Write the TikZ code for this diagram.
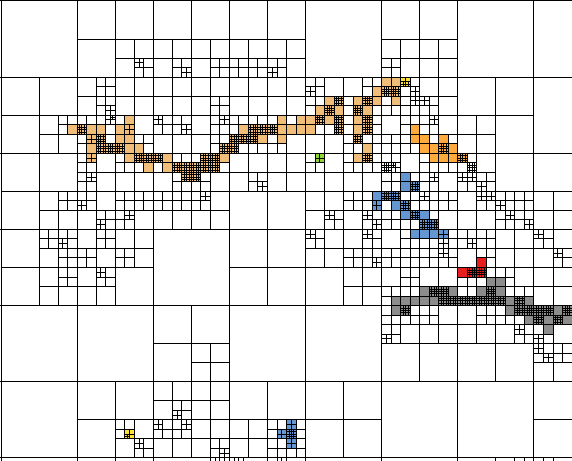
\documentclass[tikz,border=0pt]{standalone}
\definecolor{qor}{RGB}{240,190,120}
\definecolor{qsat}{RGB}{255,170,60}
\definecolor{qye}{RGB}{255,225,60}
\definecolor{qgr}{RGB}{140,215,50}
\definecolor{qbl}{RGB}{100,150,210}
\definecolor{qre}{RGB}{230,30,30}
\definecolor{qgy}{RGB}{140,140,140}
\tikzset{ql/.style={line width=1pt,black}}
\newcommand\QCr[3]{%
  \pgfmathsetmacro\qcx{floor((#1)/(#3)+0.0001)*(#3)}%
  \pgfmathsetmacro\qcy{floor((#2)/(#3)+0.0001)*(#3)}%
  \pgfmathsetmacro\qcm{\qcx+(#3)/2}%
  \pgfmathsetmacro\qcn{\qcy+(#3)/2}%
  \ifdim#3pt<0.2pt \def\qlw{0.7pt}\else\def\qlw{1pt}\fi
  \draw[ql,line width=\qlw] (\qcm,\qcy) -- ++(0,#3) (\qcx,\qcn) -- ++(#3,0);}
\newcommand\QSub[3]{\foreach \qss in {2,1,0.5,0.25,0.125,0.0625}{\ifdim\qss pt<#3pt\relax\else\QCr{#1}{#2}{\qss}\fi}}
\newcommand\QD[2]{\QSub{#1}{#2}{0.125}\QSub{#1+0.125}{#2}{0.125}\QSub{#1}{#2+0.125}{0.125}\QSub{#1+0.125}{#2+0.125}{0.125}}
\newcommand\QCell[3]{\QSub{#1}{#2}{0.5}\ifnum#3=1 \QSub{#1}{#2}{0.25}\fi\ifnum#3=2 \QD{#1}{#2}\fi}
\def\ListO{3.25/3/0,1.75/3.25/0,2/3.25/2,2.25/3.25/0,2.5/3.25/0,3/3.25/0,3.25/3.25/1,
2.25/3.5/1,2.5/3.5/2,3/3.5/0,3.25/3.5/0,
2.25/3.75/0,2.5/3.75/2,2.75/3.75/2,3/3.75/2,3.25/3.75/0,3.5/3.75/0,
2.25/4/1,3.25/4/0,3.5/4/2,3.75/4/2,4/4/2,4.25/4/0,
3.75/4.25/0,4.25/4.25/0,4.5/4.25/2,4.75/4.25/2,
4.75/4.5/2,5/4.5/2,
5.25/4/2,5.5/4/2,5.75/4/0,
5/4.25/2,5.25/4.25/2,5.5/4.25/2,
5.75/3.75/2,6/3.75/2,
6/3.5/2,6.25/3.5/2,6.5/3.5/2,6.75/3.5/0,7.25/3.5/0,
6.25/3.25/0,6.5/3.25/2,6.75/3.25/2,7/3.25/2,7.25/3.25/0,7.5/3.25/0,7.75/3.25/0,8/3.25/0,
7.25/3/0,7.75/3/0,8/3/0,8.25/3/2,8.5/3/0,8.75/3/2,9.25/3/0,9.5/3/2,
8.25/2.75/0,8.5/2.75/2,8.75/2.75/0,9.25/2.75/2,9.5/2.75/0,
8.5/2.5/0,8.75/2.5/2,9.25/2.5/0,9.5/2.5/2,9.75/2.5/0,
9.75/2.25/0,10/2.25/2,10.25/2.25/2,
10/2/0,10.25/2/0,10.25/2.5/0,
8.75/3.25/2,9.25/3.25/0,9.5/3.25/2,
9.25/3.5/2,9.5/3.75/0,9.25/4/0,9.5/4/2}
\def\ListSat{10.75/3.25/0,10.75/3.5/0,11/3.5/0,11.5/3.5/0,11/3.75/0,11.25/3.75/0,11.5/3.75/2,11.75/3.75/0,11.25/4/0,11.5/4/0,11.75/4/0,12/4/2}
\def\ListY{10.5/2/1,3.25/11.25/1}
\def\ListG{8.25/4/1}
\def\ListB{10.5/4.5/0,10.5/4.75/0,10.75/4.75/2,
9.75/5/0,10/5/2,10.25/5/2,
9.75/5.25/1,10.25/5.25/0,10.5/5.25/2,
10.5/5.5/0,10.75/5.5/2,11/5.5/0,
11/5.75/2,11.25/5.75/2,
10.75/6/0,11/6/0,11.25/6/0,11.5/6/1,
7.25/11.25/1,7.5/11/1,7.5/11.25/2,7.5/11.5/1}
\def\ListR{12.5/6.75/0,12/7/0,12.25/7/2,12.5/7/2}
\def\ListGy{12.75/7.25/0,13/7.25/0,
11/7.5/0,11.25/7.5/2,11.5/7.5/2,11.75/7.5/0,12.5/7.5/0,12.75/7.5/2,13/7.5/0,
10.25/7.75/0,10.5/7.75/0,10.75/7.75/0,11/7.75/0,11.25/7.75/0,11.5/7.75/2,11.75/7.75/2,12/7.75/2,12.25/7.75/2,12.5/7.75/2,12.75/7.75/2,13/7.75/2,13.25/7.75/0,13.5/7.75/2,13.75/7.75/0,
10.25/8/0,10.5/8/2,13.25/8/0,13.5/8/2,13.75/8/2,14/8/2,14.25/8/2,14.5/8/0,14.75/8/2,
13.75/8.25/0,14/8.25/2,14.25/8.25/0,14.5/8.25/2,14.75/8.25/0,
14.25/8.5/0}
\def\ListS{3.5/1.5/0.25,4.75/1.75/0.25,5.5/1.5/0.5,6/1.5/0.5,6.5/1.5/0.5,7/1.75/0.25,10/1.5/0.5,11/1/1,
1.5/3/0.5,2.5/2/0.5,2.75/2.75/0.25,2.875/3/0.125,3/2/1,4/2/1,4/3/0.25,4.75/3.25/0.25,5/2/1,5.5/2.5/0.5,5.75/3/0.25,6/2/1,7/2/1,8/2.25/0.25,10.75/2.25/0.25,10.75/2.5/0.25,11/2.5/0.25,11.25/3/0.25,10/3.5/0.5,10.5/3/0.5,12/3/1,10.5/2.125/0.125,10.625/2.125/0.125,
1.5/5/0.5,2.25/4.5/0.25,2/5.25/0.25,2.5/5.75/0.25,3.25/5.5/0.25,3/5/0.5,3.5/5/0.5,4/5/0.5,4.5/5/0.5,5.25/5/0.25,6.75/4.75/0.25,7/4/1,8.5/5.5/0.25,9/4/0.5,9.5/4/0.5,9/5/0.5,9.5/5.5/0.25,9.75/5.75/0.25,
10/4.25/0.125,10.125/4.25/0.125,10/4.375/0.125,10.125/4.375/0.125,10.25/4.25/0.125,
10/4.5/0.5,11.25/4.5/0.25,11/5/0.25,11.5/5/0.5,10/5.5/0.5,
12.25/4.25/0.125,12.375/4.25/0.125,12.25/4.375/0.125,12.375/4.375/0.125,
12/4.5/0.25,12.25/4.5/0.25,12.5/4.75/0.25,12.5/5/0.25,12.75/5/0.25,13/5.25/0.25,13.25/5.5/0.25,13.75/5.75/0.25,13.5/5/0.5,14/5/1,
1.5/6.25/0.25,1/6/0.5,1.5/6.5/0.5,1.5/7/0.5,2.5/6/0.5,2/6.5/0.5,3/6.5/0.5,2.5/7/0.25,6/6/2,8/6/0.25,9.5/6/0.25,9/6.5/0.5,9.75/6.75/0.25,9/7/1,
10.5/6/0.5,10/6.5/0.5,10.5/6.5/0.5,10.5/7/0.5,10/7.5/0.5,11.5/6.25/0.25,11.5/6.5/0.25,11/6.5/0.5,12/6/0.5,12.25/6.25/0.25,12.5/6/0.5,12.5/6.5/0.5,13/6/1,13/7/0.5,14/6/0.25,14.5/6.5/0.25,14/7/1,
4/8/2,5/9/1,10/8.75/0.25,10.5/8/0.5,11/8/0.5,12.5/8/0.5,13.5/8.5/0.25,14/8.5/0.5,14/8.75/0.25,14/9/0.25,14.25/9.25/0.25,14.5/9/0.5,
3.5/11.5/0.25,3.25/11.375/0.125,4.5/10.75/0.25,4/11/0.25,4.75/11/0.25,5/10/1,5.75/11.75/0.25,6/11/1,7/11.5/0.5,8/10/2,14/10/2}
\begin{document}
\begin{tikzpicture}[x=38.07pt,y=-38.07pt]
\useasboundingbox (-0.02627,-0.02627) rectangle (14.9987,12.0568);
\clip (-0.02627,-0.02627) rectangle (14.9987,12.0568);
\fill[white] (-0.1,-0.1) rectangle (15.1,12.2);
% colored cells
\foreach \qa/\qb/\qt in \ListO {\fill[qor] (\qa,\qb) rectangle ++(0.25,0.25);}
\foreach \qa/\qb/\qt in \ListSat {\fill[qsat] (\qa,\qb) rectangle ++(0.25,0.25);}
\foreach \qa/\qb/\qt in \ListY {\fill[qye] (\qa,\qb) rectangle ++(0.25,0.25);}
\foreach \qa/\qb/\qt in \ListG {\fill[qgr] (\qa,\qb) rectangle ++(0.25,0.25);}
\foreach \qa/\qb/\qt in \ListB {\fill[qbl] (\qa,\qb) rectangle ++(0.25,0.25);}
\foreach \qa/\qb/\qt in \ListR {\fill[qre] (\qa,\qb) rectangle ++(0.25,0.25);}
\foreach \qa/\qb/\qt in \ListGy {\fill[qgy] (\qa,\qb) rectangle ++(0.25,0.25);}
% base grid
\foreach \qi in {0,2,...,14} {\draw[ql] (\qi,-0.1) -- (\qi,12.2);}
\foreach \qj in {0,2,...,12} {\draw[ql] (-0.1,\qj) -- (15.1,\qj);}
% subdivisions
\foreach \qa/\qb/\qs in \ListS {\QSub{\qa}{\qb}{\qs}}
\foreach \qa/\qb/\qt in \ListO {\QCell{\qa}{\qb}{\qt}}
\foreach \qa/\qb/\qt in \ListSat {\QCell{\qa}{\qb}{\qt}}
\foreach \qa/\qb/\qt in \ListY {\QCell{\qa}{\qb}{\qt}}
\foreach \qa/\qb/\qt in \ListG {\QCell{\qa}{\qb}{\qt}}
\foreach \qa/\qb/\qt in \ListB {\QCell{\qa}{\qb}{\qt}}
\foreach \qa/\qb/\qt in \ListR {\QCell{\qa}{\qb}{\qt}}
\foreach \qa/\qb/\qt in \ListGy {\QCell{\qa}{\qb}{\qt}}
% ticks of the row below
\foreach \qx in {2,3,4,5.5,5.625,5.75,5.875,6,6.125,6.25,6.375,7,7.25,7.375,7.5,13,13.5,13.75,14.25,14.5} {\draw[ql] (\qx,12) -- (\qx,12.1);}
\end{tikzpicture}
\end{document}
